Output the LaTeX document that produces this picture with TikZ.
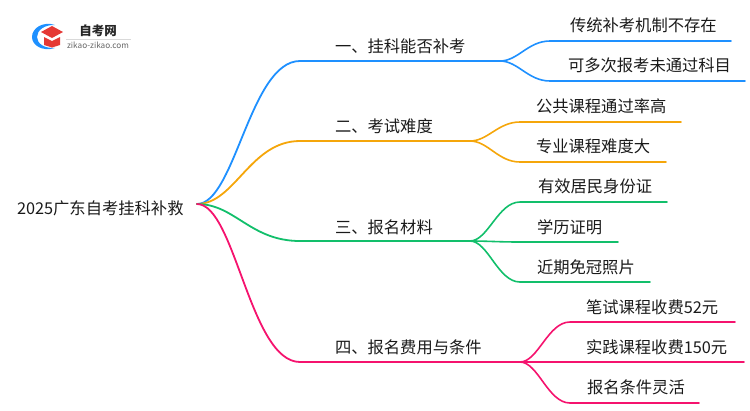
\documentclass[tikz,border=0pt]{standalone}
\usepackage{fontspec}
\setmainfont{Noto Sans CJK SC}
\usetikzlibrary{calc}
\definecolor{cblue}{HTML}{1E90FF}
\definecolor{corange}{HTML}{F5A60A}
\definecolor{cgreen}{HTML}{12BF6B}
\definecolor{cpink}{HTML}{F5136E}
\definecolor{txt}{HTML}{1A1A1A}
\definecolor{capred}{HTML}{E53935}
\tikzset{
  x=1pt,y=-1pt,
  lbl/.style={font=\fontsize{16.3}{16}\selectfont,text=txt,anchor=base west,inner sep=0pt,outer sep=0pt},
  br/.style={line width=1.8pt,line cap=round},
  leafline/.style={line width=1.6pt,line cap=round},
}
\begin{document}
\begin{tikzpicture}
\useasboundingbox (0,0) rectangle (750,410);
% logo
\fill[cblue] (55,25) .. controls (43,21) and (32,28) .. (32,37) .. controls (32,45) and (42,52) .. (55,48) .. controls (45,48.5) and (37,44) .. (37,37) .. controls (37,30) and (45,24.5) .. (55,25) -- cycle;
\fill[capred] (41,32) -- (52,26) -- (63,32) -- (52,38) -- cycle;
\fill[capred] (44,37) -- (52,41) -- (60,37) -- (60,45) -- (52,47.5) -- (44,45) -- cycle;
\node[font=\bfseries\fontsize{12.5}{12}\selectfont,text=black!85,anchor=center,inner sep=0pt] (logotitle) at (98,30.5) {自考网};
\node[font=\fontsize{8.2}{8}\selectfont,text=black!60,anchor=center,inner sep=0pt] (logourl) at (98,45) {zikao-zikao.com};
\coordinate (ruleL) at (66,39); \coordinate (ruleR) at (131,39);
\draw[black!15,line width=.5pt] (ruleL) -- (ruleR);
% root
\node[lbl] (root) at (17,214.5) {2025广东自考挂科补救};
\coordinate (o) at (197,204);
% branch coordinates
\coordinate (a0) at (300,61); \coordinate (a1) at (500,61);
\coordinate (b0) at (300,141); \coordinate (b1) at (470,141);
\coordinate (c0) at (300,241); \coordinate (c1) at (470,241);
\coordinate (d0) at (300,362); \coordinate (d1) at (520,362);
% trunk curves
\draw[br,cblue] (o) .. controls (235,204) and (250,61) .. (a0) -- (a1);
\draw[br,corange] (o) .. controls (235,204) and (250,141) .. (b0) -- (b1);
\draw[br,cgreen] (o) .. controls (235,204) and (250,241) .. (c0) -- (c1);
\draw[br,cpink] (o) .. controls (235,204) and (250,362) .. (d0) -- (d1);
% leaves
\foreach \fr/\col/\sx/\ex/\ey in {a1/cblue/550/731/41,a1/cblue/550/745/81,
  b1/corange/520/681/122,b1/corange/520/666/162,
  c1/cgreen/520/667/202,c1/cgreen/520/618/242,c1/cgreen/520/650/282,
  d1/cpink/570/735/322,d1/cpink/570/744/362,d1/cpink/570/699/403}{
  \draw[leafline,\col] (\fr) .. controls ($(\fr)+(18,0)$) and (\sx-22,\ey) .. (\sx,\ey) -- (\ex,\ey);
}
% labels
\node[lbl] (n1) at (335,52.2) {一、挂科能否补考};
\node[lbl] (n2) at (335,132.2) {二、考试难度};
\node[lbl] (n3) at (335,233.2) {三、报名材料};
\node[lbl] (n4) at (335,353.2) {四、报名费用与条件};
\node[lbl] (l11) at (570,31.7) {传统补考机制不存在};
\node[lbl] (l12) at (568,71.7) {可多次报考未通过科目};
\node[lbl] (l21) at (536,112.2) {公共课程通过率高};
\node[lbl] (l22) at (536,152.2) {专业课程难度大};
\node[lbl] (l31) at (538,192.7) {有效居民身份证};
\node[lbl] (l32) at (537,233.2) {学历证明};
\node[lbl] (l33) at (537,273.2) {近期免冠照片};
\node[lbl] (l41) at (586,313.2) {笔试课程收费52元};
\node[lbl] (l42) at (586,353.2) {实践课程收费150元};
\node[lbl] (l43) at (587,393.7) {报名条件灵活};
\end{tikzpicture}
\end{document}
